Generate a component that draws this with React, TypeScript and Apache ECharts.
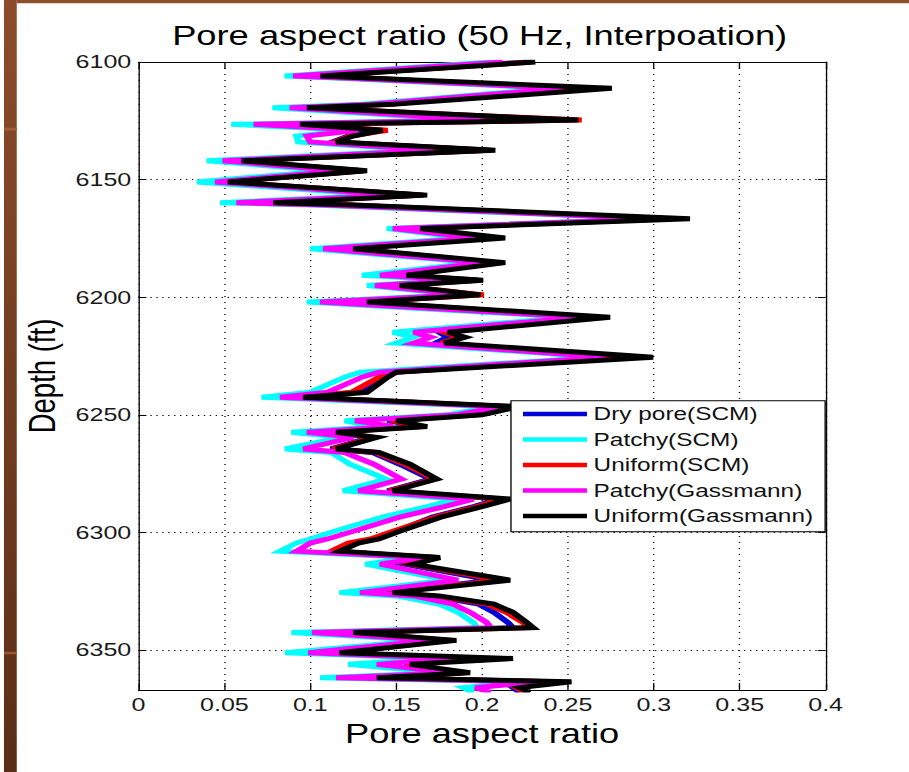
import React, { useEffect, useRef } from "react";
import * as echarts from "echarts";

// ---------- data ----------
const depths = [
  6100.0, 6106.0, 6107.0, 6111.2, 6118.0, 6119.5, 6124.7, 6126.5, 6129.0, 6131.5,
  6134.0, 6137.5, 6142.0, 6146.2, 6151.0, 6156.6, 6159.8, 6160.8, 6166.6, 6170.8,
  6174.8, 6179.4, 6185.3, 6190.7, 6192.8, 6195.0, 6199.0, 6202.0, 6208.5, 6214.9,
  6217.0, 6219.5, 6225.5, 6231.9, 6234.0, 6240.4, 6242.5, 6246.5, 6250.0, 6252.5,
  6255.0, 6257.4, 6259.6, 6264.5, 6266.0, 6271.0, 6277.3, 6282.3, 6285.8, 6289.0,
  6293.5, 6299.5, 6302.8, 6304.5, 6308.0, 6310.7, 6313.5, 6320.3, 6325.6, 6327.0,
  6330.5, 6334.0, 6338.3, 6340.5, 6342.6, 6345.9, 6351.2, 6353.6, 6356.1, 6359.7,
  6361.8, 6363.5, 6366.0, 6368.0,
];

const dryPoreSCM = [
  0.226, 0.103, 0.136, 0.252, 0.145, 0.096, 0.250, 0.090, 0.138, 0.122,
  0.113, 0.203, 0.058, 0.130, 0.050, 0.165, 0.075, 0.121, 0.306, 0.161,
  0.200, 0.122, 0.208, 0.153, 0.197, 0.149, 0.195, 0.130, 0.265, 0.175,
  0.180, 0.173, 0.280, 0.148, 0.142, 0.128, 0.093, 0.215, 0.195, 0.145,
  0.163, 0.112, 0.135, 0.112, 0.136, 0.152, 0.170, 0.145, 0.210, 0.195,
  0.171, 0.150, 0.137, 0.125, 0.114, 0.172, 0.155, 0.205, 0.144, 0.170,
  0.198, 0.207, 0.215, 0.218, 0.122, 0.180, 0.114, 0.200, 0.155, 0.188,
  0.135, 0.240, 0.218, 0.222,
];

const patchySCM = [
  0.205, 0.085, 0.121, 0.243, 0.130, 0.078, 0.193, 0.054, 0.124, 0.092,
  0.093, 0.165, 0.0397, 0.110, 0.034, 0.140, 0.0475, 0.102, 0.300, 0.1445,
  0.190, 0.0999, 0.196, 0.130, 0.183, 0.133, 0.186, 0.098, 0.252, 0.148,
  0.160, 0.150, 0.268, 0.129, 0.120, 0.100, 0.0717, 0.205, 0.180, 0.120,
  0.140, 0.089, 0.118, 0.0853, 0.112, 0.123, 0.144, 0.119, 0.185, 0.168,
  0.142, 0.114, 0.100, 0.092, 0.0824, 0.160, 0.132, 0.180, 0.117, 0.150,
  0.175, 0.186, 0.195, 0.197, 0.089, 0.165, 0.0853, 0.176, 0.122, 0.176,
  0.1057, 0.228, 0.189, 0.195,
];

const uniformSCM = [
  0.229, 0.104, 0.138, 0.250, 0.146, 0.097, 0.258, 0.092, 0.145, 0.123,
  0.114, 0.205, 0.059, 0.131, 0.051, 0.166, 0.077, 0.123, 0.310, 0.162,
  0.203, 0.123, 0.210, 0.154, 0.198, 0.150, 0.201, 0.131, 0.268, 0.178,
  0.187, 0.176, 0.285, 0.149, 0.140, 0.124, 0.095, 0.218, 0.197, 0.147,
  0.165, 0.113, 0.137, 0.113, 0.138, 0.155, 0.172, 0.146, 0.212, 0.197,
  0.173, 0.148, 0.135, 0.122, 0.112, 0.174, 0.158, 0.210, 0.146, 0.172,
  0.203, 0.214, 0.224, 0.226, 0.123, 0.182, 0.115, 0.205, 0.156, 0.190,
  0.136, 0.245, 0.220, 0.225,
];

const patchyGassmann = [
  0.212, 0.090, 0.126, 0.247, 0.135, 0.088, 0.200, 0.067, 0.128, 0.098,
  0.100, 0.172, 0.049, 0.117, 0.0446, 0.148, 0.057, 0.108, 0.303, 0.148,
  0.197, 0.1075, 0.200, 0.1406, 0.188, 0.1377, 0.190, 0.1057, 0.258, 0.160,
  0.170, 0.160, 0.272, 0.140, 0.130, 0.110, 0.0824, 0.210, 0.185, 0.126,
  0.148, 0.098, 0.125, 0.096, 0.120, 0.137, 0.153, 0.128, 0.195, 0.178,
  0.152, 0.125, 0.110, 0.100, 0.092, 0.165, 0.1406, 0.186, 0.129, 0.160,
  0.183, 0.193, 0.2027, 0.205, 0.101, 0.170, 0.0988, 0.182, 0.1387, 0.182,
  0.115, 0.233, 0.196, 0.205,
];

const uniformGassmann = [
  0.231, 0.106, 0.140, 0.2755, 0.148, 0.098, 0.256, 0.094, 0.142, 0.125,
  0.115, 0.2077, 0.060, 0.133, 0.052, 0.168, 0.0785, 0.125, 0.321, 0.164,
  0.2134, 0.125, 0.2134, 0.156, 0.2006, 0.152, 0.199, 0.133, 0.2745, 0.180,
  0.190, 0.178, 0.2996, 0.150, 0.145, 0.133, 0.0958, 0.222, 0.200, 0.150,
  0.168, 0.115, 0.1387, 0.115, 0.140, 0.158, 0.1736, 0.148, 0.2163, 0.200,
  0.176, 0.152, 0.140, 0.128, 0.117, 0.1755, 0.160, 0.2163, 0.148, 0.175,
  0.207, 0.218, 0.226, 0.2297, 0.125, 0.185, 0.117, 0.218, 0.158, 0.193,
  0.1387, 0.252, 0.222, 0.228,
];

const seriesNames = [
  "Dry pore(SCM)",
  "Patchy(SCM)",
  "Uniform(SCM)",
  "Patchy(Gassmann)",
  "Uniform(Gassmann)",
];
const seriesValues = [dryPoreSCM, patchySCM, uniformSCM, patchyGassmann, uniformGassmann];
const seriesColors = ["#0000d8", "#00ffff", "#ff0000", "#ff00ff", "#000000"];

const xTickLabels = ["0", "0.05", "0.1", "0.15", "0.2", "0.25", "0.3", "0.35", "0.4"];
const yTickLabels = ["6100", "6150", "6200", "6250", "6300", "6350"];

const titleText = "Pore aspect ratio (50 Hz, Interpoation)";
const xName = "Pore aspect ratio";
const yName = "Depth (ft)";

// ---------- layout (chart drawn in unstretched coordinates, then stretched horizontally) ----------
const OUT_W = 909;
const OUT_H = 772;
const IN_W = 689;
const SX = OUT_W / IN_W;
const FONT = "'Liberation Sans', Arial, Helvetica, sans-serif";

export default function App() {
  const ref = useRef<HTMLDivElement>(null);

  useEffect(() => {
    document.body.style.margin = "0";
    if (!ref.current) return;
    const chart = echarts.init(ref.current, undefined, { renderer: "svg" });

    const axisLineStyle = { color: "#000", width: 1 };
    const xFmt = (v: number) => {
      const k = Math.round(v / 0.05);
      return Math.abs(k * 0.05 - v) < 1e-6 ? xTickLabels[k] ?? "" : "";
    };
    const yFmt = (v: number) => {
      const k = Math.round((v - 6100) / 50);
      return Math.abs(6100 + k * 50 - v) < 1e-6 ? yTickLabels[k] ?? "" : "";
    };

    chart.setOption({
      animation: false,
      backgroundColor: "#ffffff",
      title: {
        text: titleText,
        left: 130.5,
        top: 21.5,
        padding: 0,
        textStyle: {
          fontFamily: FONT,
          fontSize: 27.5,
          lineHeight: 27.5,
          fontWeight: "normal",
          color: "#000",
        },
      },
      grid: { left: 105, right: 63.2, top: 62, bottom: 82, containLabel: false },
      graphic: [
        {
          type: "rect",
          silent: true,
          shape: { x: 3.0, y: 0, width: 9.7, height: OUT_H },
          style: {
            fill: new echarts.graphic.LinearGradient(0, 0, 0, 1, [
              { offset: 0, color: "#8c4c2a" },
              { offset: 1, color: "#5a2e17" },
            ]),
          },
        },
        {
          type: "rect",
          silent: true,
          shape: { x: 12.7, y: 0, width: IN_W, height: 3.3 },
          style: { fill: "#8e4f2c" },
        },
        {
          type: "rect",
          silent: true,
          shape: { x: 3.0, y: 127.7, width: 9.7, height: 3 },
          style: { fill: "#a35c35" },
        },
        {
          type: "rect",
          silent: true,
          shape: { x: 3.0, y: 651.8, width: 9.7, height: 2.5 },
          style: { fill: "#9e5630" },
        },
      ],
      legend: {
        orient: "vertical",
        left: 387.3,
        top: 400.7,
        padding: [3.3, 9, 5.7, 9.1],
        itemGap: 5.5,
        itemWidth: 48.5,
        itemHeight: 4.5,
        icon: "rect",
        backgroundColor: "#ffffff",
        borderColor: "#000",
        borderWidth: 1,
        borderRadius: 0,
        textStyle: { fontFamily: FONT, fontSize: 18.5, lineHeight: 20, color: "#111" },
        data: seriesNames,
      },
      xAxis: [
        {
          type: "value",
          position: "bottom",
          min: 0,
          max: 0.4,
          interval: 0.05,
          name: xName,
          nameLocation: "middle",
          nameGap: 28.5,
          nameTextStyle: { fontFamily: FONT, fontSize: 27.5, lineHeight: 27.5, color: "#000" },
          axisLine: { show: true, onZero: false, lineStyle: axisLineStyle },
          axisTick: { show: true, inside: true, length: 7, lineStyle: axisLineStyle },
          axisLabel: {
            formatter: xFmt,
            fontFamily: FONT,
            fontSize: 19,
            lineHeight: 19,
            color: "#1a1a1a",
            margin: 5.5,
          },
          splitLine: { show: true, lineStyle: { color: "#000", width: 1, type: [1, 5] } },
        },
        {
          type: "value",
          position: "top",
          min: 0,
          max: 0.4,
          interval: 0.05,
          axisLine: { show: true, onZero: false, lineStyle: axisLineStyle },
          axisTick: { show: true, inside: true, length: 7, lineStyle: axisLineStyle },
          axisLabel: { show: false },
          splitLine: { show: false },
        },
      ],
      yAxis: [
        {
          type: "value",
          position: "left",
          inverse: true,
          min: 6100,
          max: 6367,
          interval: 50,
          name: yName,
          nameLocation: "middle",
          nameRotate: 90,
          nameGap: 57,
          nameTextStyle: { fontFamily: FONT, fontSize: 27.5, lineHeight: 27.5, color: "#000" },
          axisLine: { show: true, onZero: false, lineStyle: axisLineStyle },
          axisTick: { show: true, inside: true, length: 6, lineStyle: axisLineStyle },
          axisLabel: {
            formatter: yFmt,
            fontFamily: FONT,
            fontSize: 19,
            color: "#1a1a1a",
            margin: 5.5,
          },
          splitLine: { show: true, lineStyle: { color: "#000", width: 1, type: [1, 3.5] } },
        },
        {
          type: "value",
          position: "right",
          inverse: true,
          min: 6100,
          max: 6367,
          interval: 50,
          axisLine: { show: true, onZero: false, lineStyle: axisLineStyle },
          axisTick: { show: true, inside: true, length: 6, lineStyle: axisLineStyle },
          axisLabel: { show: false },
          splitLine: { show: false },
        },
      ],
      series: seriesNames.map((name, i) => ({
        type: "line",
        name,
        xAxisIndex: 0,
        yAxisIndex: 0,
        data: depths.map((d, j) => [seriesValues[i][j], d]),
        symbol: "none",
        showSymbol: false,
        clip: true,
        color: seriesColors[i],
        itemStyle: { color: seriesColors[i] },
        lineStyle: { color: seriesColors[i], width: 5, join: "miter", miterLimit: 4 },
      })),
    });

    return () => {
      chart.dispose();
    };
  }, []);

  return (
    <div
      style={{
        position: "fixed",
        left: 0,
        top: 0,
        width: OUT_W,
        height: OUT_H,
        overflow: "hidden",
        background: "#ffffff",
      }}
    >
      <div
        ref={ref}
        style={{
          width: IN_W,
          height: OUT_H,
          transform: `scaleX(${SX})`,
          transformOrigin: "0 0",
        }}
      />
    </div>
  );
}
